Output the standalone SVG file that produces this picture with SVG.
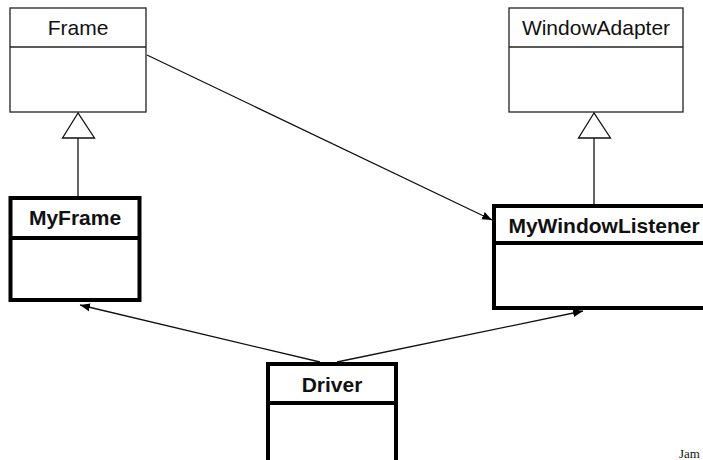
<svg xmlns="http://www.w3.org/2000/svg" width="703" height="460" viewBox="0 0 703 460">
<defs>
<marker id="arr" viewBox="0 0 10 10" refX="10" refY="5" markerWidth="10" markerHeight="10" markerUnits="userSpaceOnUse" orient="auto">
<path d="M0,1 L10,5 L0,9 Z" fill="#000"/>
</marker>
</defs>
<style>
.thin{fill:#fff;stroke:#222;stroke-width:1.3}
.thick{fill:#fff;stroke:#000;stroke-width:4}
.dl{stroke:#222;stroke-width:1.3}
.dk{stroke:#000;stroke-width:4}
.t{font-family:"Liberation Sans",Arial,sans-serif;font-size:21px;text-anchor:middle;fill:#111}
.b{font-weight:bold}
.c{stroke:#111;stroke-width:1.3;fill:none}
.tri{fill:#fff;stroke:#111;stroke-width:1.3}
</style>
<g id="Frame">
<rect class="thin" x="10" y="8" width="136" height="104"/>
<line class="dl" x1="10" y1="47" x2="146" y2="47"/>
<text class="t" x="78" y="35">Frame</text>
</g>
<g id="WindowAdapter">
<rect class="thin" x="509" y="8" width="174" height="104"/>
<line class="dl" x1="509" y1="47" x2="683" y2="47"/>
<text class="t" x="596" y="35">WindowAdapter</text>
</g>
<g id="MyFrame">
<rect class="thick" x="10.5" y="198" width="129" height="102"/>
<line class="dk" x1="10.5" y1="238" x2="139.5" y2="238"/>
<text class="t b" x="75" y="225">MyFrame</text>
</g>
<g id="MyWindowListener">
<rect class="thick" x="494" y="206" width="222" height="102"/>
<line class="dk" x1="494" y1="243" x2="716" y2="243"/>
<text class="t b" x="604" y="233">MyWindowListener</text>
</g>
<g id="Driver">
<rect class="thick" x="268" y="364" width="128" height="110"/>
<line class="dk" x1="268" y1="403" x2="396" y2="403"/>
<text class="t b" x="332" y="392">Driver</text>
</g>
<g id="connectors">
<line class="c" x1="78" y1="138" x2="78" y2="196"/>
<polygon class="tri" points="78,113 62.5,138 94.5,138"/>
<line class="c" x1="594" y1="138" x2="594" y2="204"/>
<polygon class="tri" points="594,113 578.5,138 610.5,138"/>
<line class="c" x1="147" y1="55" x2="492" y2="220" marker-end="url(#arr)"/>
<line class="c" x1="320" y1="362" x2="80" y2="305" marker-end="url(#arr)"/>
<line class="c" x1="337" y1="362" x2="583" y2="311" marker-end="url(#arr)"/>
</g>
<text x="679" y="458" font-family="'Liberation Serif','Times New Roman',serif" font-size="13" fill="#111">Jam</text>
</svg>
